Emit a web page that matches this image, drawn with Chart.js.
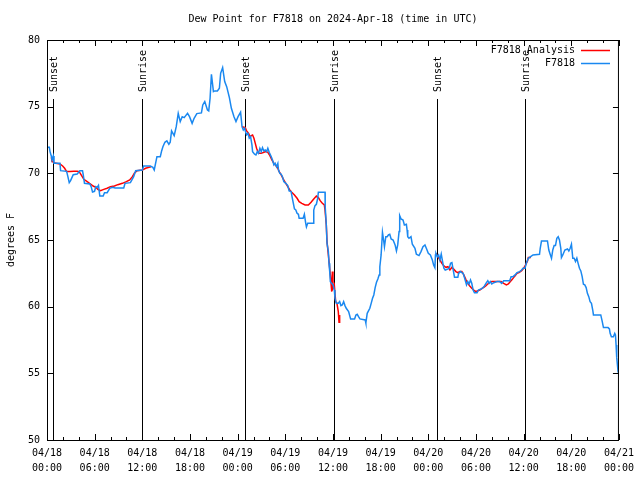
<!DOCTYPE html>
<html>
<head>
<meta charset="utf-8">
<title>Dew Point for F7818</title>
<script src="https://cdn.jsdelivr.net/npm/chart.js@4.4.1/dist/chart.umd.min.js"></script>
<style>
  html, body { margin: 0; padding: 0; background: #fff; }
  canvas { display: block; }
</style>
</head>
<body>
<canvas id="chart" width="640" height="480"></canvas>
<script>
// Station observations (hours since 04/18 00:00 UTC, degrees F)
const obsHours = [
  0.0, 0.29, 0.38, 0.54, 0.63, 0.79, 0.88, 1.63, 1.71, 2.47, 2.63, 2.8, 2.97, 3.3, 3.8, 4.14, 4.47, 4.56, 4.72,
  5.39, 5.56, 5.73, 5.98, 6.15, 6.31, 6.48, 6.65, 7.07, 7.24, 7.57, 7.9, 8.24, 8.57, 9.66, 9.82, 10.5, 10.91,
  11.16, 12.0, 12.17, 13.0, 13.33, 13.5, 13.84, 14.26, 14.43, 14.59, 14.84, 15.09, 15.34, 15.51, 15.68, 16.01,
  16.27, 16.52, 16.77, 17.02, 17.27, 17.69, 17.94, 18.27, 18.52, 18.86, 19.44, 19.61, 19.86, 20.2, 20.36, 20.53,
  20.7, 20.95, 21.11, 21.45, 21.7, 21.86, 22.11, 22.37, 22.62, 22.96, 23.21, 23.54, 23.79, 24.05, 24.37, 24.55,
  24.71, 24.88, 25.05, 25.13, 25.3, 25.46, 25.63, 25.8, 25.88, 26.13, 26.3, 26.47, 26.63, 26.8, 26.97, 27.13,
  27.3, 27.47, 27.64, 27.8, 27.97, 28.22, 28.39, 28.56, 28.72, 28.89, 29.06, 29.14, 29.31, 29.48, 29.64, 29.81,
  30.06, 30.31, 30.48, 30.73, 30.9, 31.15, 31.32, 31.48, 31.65, 31.74, 32.24, 32.4, 32.57, 32.66, 32.82, 33.49,
  33.58, 33.74, 33.91, 34.08, 34.16, 35.0, 35.02, 35.16, 35.25, 35.42, 35.5, 35.59, 35.67, 35.84, 36.01, 36.17,
  36.25, 36.42, 36.67, 36.84, 37.0, 37.17, 37.34, 37.51, 37.67, 37.97, 38.22, 38.72, 38.89, 39.05, 39.22, 39.39,
  40.06, 40.14, 40.31, 40.47, 40.64, 40.81, 40.98, 41.14, 41.31, 41.48, 41.65, 41.81, 41.9, 42.06, 42.23, 42.4,
  42.48, 42.65, 42.82, 42.98, 43.15, 43.32, 43.57, 43.82, 43.99, 44.15, 44.32, 44.4, 44.57, 44.82, 44.99, 45.24,
  45.33, 45.41, 45.57, 45.82, 45.99, 46.32, 46.5, 46.83, 47.08, 47.33, 47.58, 47.75, 48.0, 48.26, 48.51, 48.67,
  48.83, 48.9, 48.96, 49.13, 49.3, 49.46, 49.63, 49.8, 49.96, 50.13, 50.38, 50.64, 50.8, 50.97, 51.14, 51.3,
  51.72, 51.81, 52.06, 52.22, 52.39, 52.64, 52.81, 52.97, 53.14, 53.31, 53.47, 53.64, 53.81, 54.14, 54.31, 54.56,
  54.81, 55.07, 55.32, 55.49, 55.65, 55.82, 55.99, 56.24, 56.66, 56.99, 57.24, 57.49, 58.25, 58.42, 58.67, 58.92,
  59.17, 59.5, 59.75, 59.92, 60.17, 60.34, 60.59, 61.18, 62.0, 62.09, 62.25, 63.0, 63.17, 63.34, 63.51, 63.67,
  63.84, 64.01, 64.18, 64.35, 64.51, 64.68, 64.76, 64.93, 65.19, 65.52, 65.69, 65.86, 66.02, 66.19, 66.36, 66.53,
  66.7, 66.86, 67.03, 67.2, 67.37, 67.53, 67.7, 67.87, 68.03, 68.2, 68.37, 68.54, 68.7, 68.79, 69.71, 69.88,
  70.05, 70.63, 70.8, 70.89, 71.05, 71.3, 71.47, 71.56, 71.64, 71.72, 71.89, 71.97
];
const obsValues = [
  71.95, 71.95, 71.63, 71.3, 71.0, 71.3, 70.75, 70.75, 70.2, 70.15, 69.75, 69.3, 69.45, 69.9, 69.95, 70.2, 70.2, 69.9, 69.25,
  69.2, 69.0, 68.6, 68.65, 69.0, 68.95, 69.1, 68.3, 68.3, 68.55, 68.55, 68.88, 68.95, 68.9, 68.9, 69.25, 69.3, 69.75,
  70.2, 70.25, 70.55, 70.55, 70.45, 70.25, 71.25, 71.25, 71.68, 72.0, 72.33, 72.43, 72.18, 72.33, 73.18, 72.83,
  73.5, 74.5, 73.88, 74.25, 74.18, 74.5, 74.25, 73.75, 74.13, 74.48, 74.53, 75.13, 75.38, 74.75, 74.68, 75.63,
  77.43, 76.13, 76.18, 76.18, 76.38, 77.5, 77.93, 76.88, 76.5, 75.68, 74.88, 74.25, 73.88, 74.25, 74.58, 73.5,
  73.25, 73.38, 73.0, 72.88, 73.0, 72.63, 72.75, 72.13, 71.63, 71.43, 71.38, 71.63, 71.5, 71.88, 71.63, 71.93,
  71.68, 71.75, 71.63, 71.88, 71.58, 71.25, 71.0, 70.63, 70.75, 70.5, 70.75, 70.25, 70.0, 69.93, 69.75, 69.38,
  69.25, 69.08, 68.68, 68.63, 68.08, 67.33, 67.25, 67.0, 66.93, 66.63, 66.63, 66.93, 66.25, 65.98, 66.25, 66.25,
  67.25, 67.58, 67.68, 68.13, 68.58, 68.58, 67.5, 66.13, 64.75, 64.13, 63.25, 62.63, 61.88, 61.75, 61.63, 61.25,
  60.63, 60.25, 60.25, 60.38, 60.08, 60.13, 60.38, 60.08, 59.88, 59.63, 59.08, 59.08, 59.38, 59.43, 59.25, 59.08,
  59.0, 58.78, 59.5, 59.68, 59.88, 60.25, 60.63, 60.88, 61.43, 61.83, 62.08, 62.38, 63.0, 63.88, 65.58, 64.88,
  64.5, 65.25, 65.25, 65.38, 65.43, 65.08, 65.0, 64.63, 64.18, 64.63, 65.63, 66.83, 66.58, 66.5, 66.13, 66.18,
  65.75, 65.25, 65.13, 65.25, 64.68, 64.38, 63.93, 63.83, 64.13, 64.5, 64.63, 64.38, 64.0, 63.88, 63.5, 63.13,
  62.93, 63.88, 64.0, 63.75, 63.88, 63.5, 63.95, 63.38, 62.88, 62.75, 62.8, 62.88, 63.25, 63.3, 62.75, 62.2,
  62.2, 62.5, 62.63, 62.55, 62.5, 62.0, 61.63, 61.88, 61.7, 62.0, 61.75, 61.25, 61.05, 61.05, 61.25, 61.3,
  61.38, 61.55, 61.8, 61.95, 61.75, 61.88, 61.7, 61.8, 61.88, 61.88, 61.75, 61.95, 61.95, 62.25, 62.25, 62.38,
  62.55, 62.63, 62.75, 62.88, 62.88, 63.25, 63.63, 63.88, 63.93, 64.38, 64.93, 64.93, 64.25, 63.93, 63.63, 64.25,
  64.58, 64.58, 65.13, 65.25, 65.0, 64.38, 63.68, 63.88, 64.25, 64.33, 64.18, 64.38, 64.68, 63.63, 63.63, 63.38,
  63.63, 63.25, 62.88, 62.68, 62.25, 61.68, 61.63, 61.43, 61.0, 60.75, 60.38, 60.25, 59.75, 59.38, 59.38, 58.93,
  58.43, 58.43, 58.33, 58.0, 57.75, 57.75, 58.0, 57.88, 57.13, 56.18, 55.13, 55.0
];

// Analysis series (null = no analysis, breaks the line)
const anaHours = [
  0.55, 0.63, 1.13, 1.63, 1.97, 2.22, 2.47, 2.89, 3.39, 3.8, 4.05, 4.3, 4.64, 5.06, 5.48, 5.81, 6.15, 6.4, 6.73,
  7.15, 7.57, 7.99, 8.49, 8.91, 9.49, 9.99, 10.41, 10.75, 11.0, 11.33, 12.0, 12.42, 12.83, 13.08,
  18.0,
  24.55, 24.96, 25.13, 25.38, 25.55, 25.72, 25.88, 26.05, 26.22, 26.38, 26.63, 26.97, 27.3, 27.55, 27.8, 28.06,
  28.31, 28.56, 28.81, 29.06, 29.23, 29.48, 29.73, 30.06, 30.31, 30.56, 30.81, 31.15, 31.48, 31.74, 32.07, 32.49,
  32.9, 33.24, 33.58, 33.91, 34.16, 34.41, 34.66, 34.91, 35.0, 35.16, 35.25, 35.42, 35.5, 35.67, 35.84, 35.92,
  36.0, 36.17, 36.34, 36.5, 36.67, 36.76, 36.84,
  42.0,
  48.96, 49.21, 49.46, 49.71, 49.96, 50.22, 50.47, 50.72, 50.97, 51.22, 51.47, 51.72, 51.97, 52.22, 52.47, 52.72,
  52.97, 53.22, 53.47, 53.72, 53.97, 54.23, 54.48, 54.73, 54.98, 55.23, 55.48, 55.73, 55.99, 56.82, 57.16, 57.49,
  57.83, 58.08, 58.33, 58.58, 58.83, 59.17, 59.42, 59.75, 60.0, 60.25, 60.5, 60.59, 60.92
];
const anaValues = [
  71.2, 70.88, 70.75, 70.7, 70.55, 70.38, 70.13, 70.13, 70.15, 70.15, 70.13, 69.88, 69.55, 69.38, 69.2, 69.05, 68.95, 68.8, 68.7,
  68.8, 68.88, 69.0, 69.05, 69.15, 69.25, 69.38, 69.5, 69.75, 70.0, 70.2, 70.25, 70.38, 70.45, 70.5,
  null,
  73.5, 73.43, 73.18, 73.0, 72.75, 72.83, 72.88, 72.63, 72.25, 71.88, 71.5, 71.5, 71.58, 71.63, 71.58, 71.33,
  71.0, 70.75, 70.58, 70.38, 70.13, 69.88, 69.58, 69.25, 69.0, 68.75, 68.58, 68.38, 68.13, 67.88, 67.75, 67.63,
  67.63, 67.83, 68.08, 68.3, 68.18, 67.93, 67.75, 67.63, 67.25, 66.13, 64.88, 63.88, 63.38, 62.38, 61.13, 62.63,
  61.38, 61.63, 60.38, 60.25, 59.63, 58.83, 59.38,
  null,
  64.0, 63.75, 63.5, 63.25, 63.05, 62.95, 63.0, 62.75, 62.95, 62.8, 62.63, 62.55, 62.63, 62.63, 62.38, 62.05,
  61.75, 61.55, 61.38, 61.25, 61.13, 61.2, 61.25, 61.35, 61.45, 61.55, 61.7, 61.8, 61.88, 61.88, 61.88, 61.75,
  61.63, 61.7, 61.88, 62.05, 62.25, 62.5, 62.55, 62.7, 62.88, 63.13, 63.45, 63.68, 63.68
];

// Sunset / sunrise markers (hours since 04/18 00:00 UTC)
const sunHours = [0.8, 12.0, 24.92, 36.12, 49.06, 60.12];
const sunLabels = ['Sunset', 'Sunrise', 'Sunset', 'Sunrise', 'Sunset', 'Sunrise'];

const xTickLabels = [
  ['04/18', '00:00'], ['04/18', '06:00'], ['04/18', '12:00'], ['04/18', '18:00'],
  ['04/19', '00:00'], ['04/19', '06:00'], ['04/19', '12:00'], ['04/19', '18:00'],
  ['04/20', '00:00'], ['04/20', '06:00'], ['04/20', '12:00'], ['04/20', '18:00'],
  ['04/21', '00:00']
];

const FONT = 'DejaVu Sans Mono';
const toPoints = (hours, values) => hours.map((h, i) => ({ x: h, y: values[i] }));

// gnuplot-like frame, inward ticks, sun markers, key and titles
const gnuplotDecor = {
  id: 'gnuplotDecor',
  beforeDatasetsDraw(chart) {
    const { ctx, chartArea: { bottom } } = chart;
    const xs = chart.scales.x, ys = chart.scales.y;
    const topY = Math.round(ys.getPixelForValue(75.55));
    ctx.save();
    ctx.strokeStyle = '#000';
    ctx.lineWidth = 1;
    ctx.beginPath();
    sunHours.forEach(h => {
      const px = Math.round(xs.getPixelForValue(h)) + 0.5;
      ctx.moveTo(px, topY);
      ctx.lineTo(px, bottom);
    });
    ctx.stroke();
    ctx.restore();
  },
  afterDatasetsDraw(chart) {
    const { ctx, chartArea: { left, right, top, bottom } } = chart;
    const xs = chart.scales.x, ys = chart.scales.y;
    ctx.save();
    ctx.strokeStyle = '#000';
    ctx.lineWidth = 1;
    ctx.beginPath();
    for (let h = 0; h <= 72; h += 2) {
      const px = Math.round(xs.getPixelForValue(h)) + 0.5;
      const len = h % 6 === 0 ? 6 : 3;
      ctx.moveTo(px, bottom); ctx.lineTo(px, bottom - len);
      ctx.moveTo(px, top); ctx.lineTo(px, top + len);
    }
    for (let v = 50; v <= 80; v += 5) {
      const py = Math.round(ys.getPixelForValue(v)) + 0.5;
      ctx.moveTo(left, py); ctx.lineTo(left + 6, py);
      ctx.moveTo(right, py); ctx.lineTo(right - 6, py);
    }
    ctx.stroke();
    ctx.strokeRect(left + 0.5, top + 0.5, right - left - 1, bottom - top);

    ctx.fillStyle = '#000';
    ctx.font = '10px "' + FONT + '"';

    // sun marker labels, rotated
    sunHours.forEach((h, i) => {
      const px = Math.round(xs.getPixelForValue(h)) + 1;
      ctx.save();
      ctx.translate(px, 92);
      ctx.rotate(-Math.PI / 2);
      ctx.textAlign = 'left';
      ctx.textBaseline = 'middle';
      ctx.fillText(sunLabels[i], 0, 0);
      ctx.restore();
    });

    // key
    const keyRows = [
      { text: 'F7818 Analysis', color: '#ff0000', y: 50 },
      { text: 'F7818', color: '#1a88f0', y: 63 }
    ];
    keyRows.forEach(row => {
      ctx.textAlign = 'right';
      ctx.textBaseline = 'middle';
      ctx.fillStyle = '#000';
      ctx.fillText(row.text, 575, row.y);
      ctx.strokeStyle = row.color;
      ctx.lineWidth = 1.5;
      ctx.beginPath();
      ctx.moveTo(581, row.y + 0.5);
      ctx.lineTo(610, row.y + 0.5);
      ctx.stroke();
    });

    // title
    ctx.fillStyle = '#000';
    ctx.textAlign = 'center';
    ctx.textBaseline = 'middle';
    ctx.fillText('Dew Point for F7818 on 2024-Apr-18 (time in UTC)', 333, 19);

    // y axis title
    ctx.save();
    ctx.translate(11, 240);
    ctx.rotate(-Math.PI / 2);
    ctx.fillText('degrees F', 0, 0);
    ctx.restore();

    ctx.restore();
  }
};

new Chart(document.getElementById('chart'), {
  type: 'line',
  data: {
    datasets: [
      {
        label: 'F7818 Analysis',
        data: toPoints(anaHours, anaValues),
        borderColor: '#ff0000',
        borderWidth: 1.5,
        pointRadius: 0,
        tension: 0,
        spanGaps: false,
        order: 1
      },
      {
        label: 'F7818',
        data: toPoints(obsHours, obsValues),
        borderColor: '#1a88f0',
        borderWidth: 1.5,
        pointRadius: 0,
        tension: 0,
        order: 0
      }
    ]
  },
  options: {
    responsive: false,
    animation: false,
    parsing: false,
    layout: { padding: { left: 0, right: 19, top: 40, bottom: 0 } },
    plugins: {
      legend: { display: false },
      tooltip: { enabled: false },
      title: { display: false }
    },
    scales: {
      x: {
        type: 'linear',
        min: 0,
        max: 72,
        afterFit: s => { s.height = 40; },
        grid: { display: false, drawTicks: false },
        border: { display: false },
        ticks: {
          stepSize: 6,
          autoSkip: false,
          maxRotation: 0,
          padding: 6,
          color: '#000',
          font: { family: FONT, size: 10, lineHeight: 1.5 },
          callback: v => xTickLabels[v / 6]
        }
      },
      y: {
        min: 50,
        max: 80,
        afterFit: s => { s.width = 47; },
        grid: { display: false, drawTicks: false },
        border: { display: false },
        ticks: {
          stepSize: 5,
          padding: 7,
          color: '#000',
          font: { family: FONT, size: 10 }
        }
      }
    }
  },
  plugins: [gnuplotDecor]
});
</script>
</body>
</html>
